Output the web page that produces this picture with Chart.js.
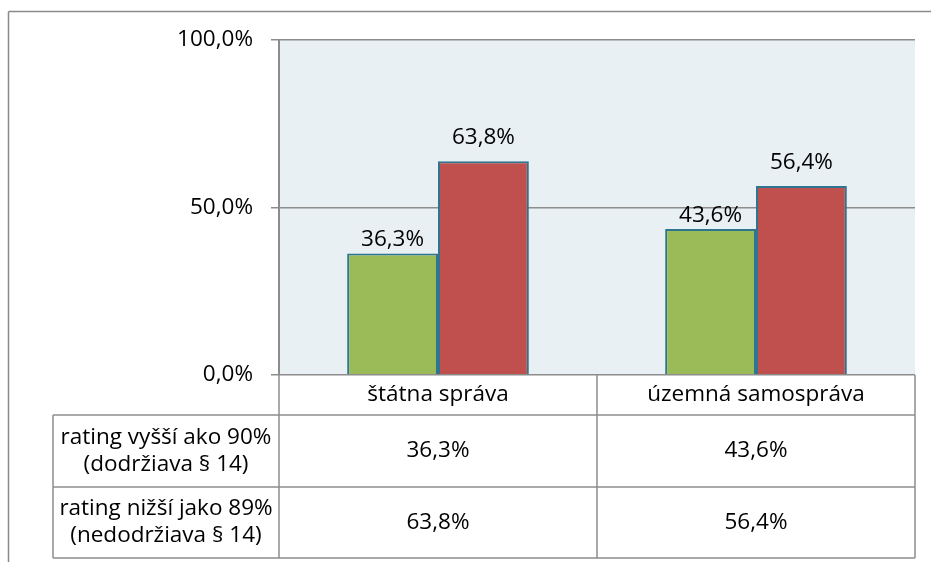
<!DOCTYPE html>
<html>
<head>
<meta charset="utf-8">
<script src="https://cdn.jsdelivr.net/npm/chart.js@4/dist/chart.umd.min.js"></script>
<style>
  html, body { margin: 0; padding: 0; background: #ffffff; }
  #wrap { position: relative; width: 931px; height: 562px; }
</style>
</head>
<body>
<div id="wrap"><canvas id="c"></canvas></div>
<script>
// ---- data ----
const categories = ['štátna správa', 'územná samospráva'];
const seriesNames = [
  ['rating vyšší ako 90%', '(dodržiava § 14)'],
  ['rating nižší jako 89%', '(nedodržiava § 14)']
];
const highRating = [36.3, 43.6];
const lowRating = [63.8, 56.4];
const yTicks = [0, 50, 100];

const FONT = '"Open Sans", "DejaVu Sans", sans-serif';
const FSIZE = 22.5;
const LINE = '#8c8c8c';
const LABEL_GAP = [7, 17];

function fmt(v) { return v.toFixed(1).replace('.', ',') + '%'; }

const tablePlugin = {
  id: 'tablePlugin',
  beforeDraw(chart) {
    const { ctx, chartArea: a } = chart;
    ctx.save();
    ctx.fillStyle = '#e8f0f4';
    ctx.fillRect(a.left, a.top, a.right - a.left, a.bottom - a.top);
    ctx.restore();
  },
  afterDatasetsDraw(chart) {
    const { ctx } = chart;
    ctx.save();
    ctx.font = FSIZE + 'px ' + FONT;
    ctx.fillStyle = '#000';
    ctx.textAlign = 'center';
    ctx.textBaseline = 'alphabetic';
    chart.data.datasets.forEach((ds, di) => {
      const meta = chart.getDatasetMeta(di);
      meta.data.forEach((bar, i) => {
        ctx.fillText(fmt(ds.data[i]), bar.x, bar.y - LABEL_GAP[di]);
      });
    });
    ctx.restore();
  },
  afterDraw(chart) {
    const { ctx, chartArea: a, scales } = chart;
    const x = scales.x;
    const left = 53, headerBottom = 415, row1Bottom = 487, bottom = 558;
    const plotL = a.left, plotR = a.right, top0 = a.bottom;
    ctx.save();
    ctx.strokeStyle = LINE;
    ctx.lineWidth = 1.5;
    const line = (x1, y1, x2, y2) => { ctx.beginPath(); ctx.moveTo(x1, y1); ctx.lineTo(x2, y2); ctx.stroke(); };
    line(left, headerBottom, plotR, headerBottom);
    line(left, row1Bottom, plotR, row1Bottom);
    line(left, bottom, plotR, bottom);
    line(left, headerBottom, left, bottom);
    line(plotL, top0, plotL, bottom);
    const mid = (x.getPixelForValue(0) + x.getPixelForValue(1)) / 2;
    line(mid, top0, mid, bottom);
    line(plotR, top0, plotR, bottom);
    ctx.strokeStyle = '#8a8a8a';
    line(8.5, 11.5, 931, 11.5);
    line(8.5, 11.5, 8.5, 562);

    ctx.font = FSIZE + 'px ' + FONT;
    ctx.fillStyle = '#000';
    ctx.textAlign = 'center';
    ctx.textBaseline = 'middle';
    const hy = (top0 + headerBottom) / 2;
    const r1 = (headerBottom + row1Bottom) / 2;
    const r2 = (row1Bottom + bottom) / 2;
    categories.forEach((c, i) => {
      const cx = x.getPixelForValue(i);
      ctx.fillText(c, cx, hy);
      ctx.fillText(fmt(highRating[i]), cx, r1);
      ctx.fillText(fmt(lowRating[i]), cx, r2);
    });
    const lx = (left + plotL) / 2;
    [r1, r2].forEach((ry, k) => {
      ctx.fillText(seriesNames[k][0], lx, ry - 13.5);
      ctx.fillText(seriesNames[k][1], lx, ry + 13.5);
    });
    ctx.restore();
  }
};

new Chart(document.getElementById('c'), {
  type: 'bar',
  data: {
    labels: categories,
    datasets: [
      {
        label: seriesNames[0].join(' '),
        data: highRating,
        backgroundColor: '#9bbb59',
        borderColor: '#2f7592',
        borderWidth: 2,
        categoryPercentage: 1 / 1.75,
        barPercentage: 1
      },
      {
        label: seriesNames[1].join(' '),
        data: lowRating,
        backgroundColor: '#c0504d',
        borderColor: '#2f7592',
        borderWidth: 2,
        categoryPercentage: 1 / 1.75,
        barPercentage: 1
      }
    ]
  },
  options: {
    responsive: true,
    maintainAspectRatio: false,
    animation: false,
    layout: { padding: { left: 0, right: 16, top: 40, bottom: 187 } },
    plugins: { legend: { display: false }, tooltip: { enabled: false } },
    scales: {
      x: { display: false, offset: true },
      y: {
        min: 0, max: 100,
        afterBuildTicks(scale) { scale.ticks = yTicks.map(v => ({ value: v })); },
        afterFit(scale) { scale.width = 279; },
        ticks: {
          callback: v => fmt(v),
          color: '#000',
          font: { family: FONT, size: FSIZE },
          padding: 18
        },
        grid: { color: LINE, lineWidth: 1.5, tickLength: 8, drawTicks: true },
        border: { display: true, color: LINE, width: 2 }
      }
    }
  },
  plugins: [tablePlugin]
});
</script>
</body>
</html>
